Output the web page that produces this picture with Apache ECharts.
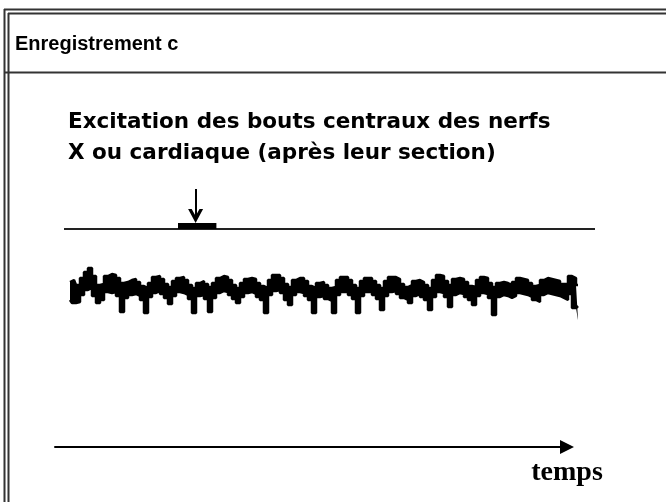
<!DOCTYPE html>
<html>
<head>
<meta charset="utf-8">
<title>Enregistrement c</title>
<script src="https://cdn.jsdelivr.net/npm/echarts@6/dist/echarts.min.js"></script>
</head>
<body style="margin:0;background:#fff;">
<div id="main" style="width:666px;height:502px;"></div>
<script type="text/javascript">
// textes
var headerText = 'Enregistrement c';
var titleLines = ['Excitation des bouts centraux des nerfs', 'X ou cardiaque (après leur section)'];
var timeName = 'temps';

// tracé (un échantillon = une unité de temps), bord haut et bord bas du trait
var traceTop = [38, 40, 35, 42, 48, 52, 44, 35, 36, 44, 46, 45, 42, 37, 38, 40, 41, 38, 34, 32,
    37, 43, 44, 41, 36, 33, 39, 42, 43, 40, 35, 32, 37, 39, 36, 33, 37, 42, 44, 43,
    40, 35, 32, 37, 41, 42, 41, 37, 34, 32, 40, 45, 45, 42, 36, 33, 40, 42, 42, 39,
    34, 32, 37, 38, 35, 32, 33, 40, 43, 43, 40, 35, 32, 39, 42, 42, 39, 35, 32, 39,
    43, 43, 41, 36, 33, 35, 39, 40, 38, 35, 32, 40, 45, 44, 39, 35, 41, 42, 41, 38,
    34, 33, 40, 43, 42, 37, 33, 37, 38, 37, 35, 38, 42, 41, 40, 37, 34, 35, 40, 42,
    41, 40, 39, 36, 36, 44, 42, 35];
var traceBottom = [20, 17, 18, 25, 30, 32, 24, 17, 20, 28, 27, 28, 24, 8, 22, 25, 26, 24, 20, 7,
    23, 27, 29, 26, 22, 16, 24, 28, 27, 25, 21, 7, 24, 25, 21, 8, 22, 27, 29, 28,
    25, 21, 17, 23, 27, 28, 26, 23, 20, 7, 25, 29, 30, 27, 20, 15, 25, 28, 27, 24,
    20, 7, 23, 24, 21, 19, 7, 25, 28, 28, 25, 21, 7, 24, 28, 28, 25, 21, 10, 24,
    28, 29, 26, 22, 20, 17, 24, 26, 23, 20, 10, 23, 28, 27, 23, 13, 25, 27, 26, 23,
    20, 15, 24, 27, 26, 22, 5, 23, 25, 24, 22, 24, 27, 26, 25, 23, 20, 18, 25, 27,
    26, 25, 24, 22, 20, 26, 12, 14];

// ligne de base, stimulation et flèche
var baselineTimes = [-1.5, 131.25];
var baselineLevel = 91;
var stimulusTimes = [27, 36.6];
var stimulusLevel = 94;
var arrowTime = 31.4;
var arrowLevels = [131, 104];

var topData = traceTop.map(function (v, i) { return [i, v]; });
var bottomData = traceBottom.map(function (v, i) { return [i, v]; });

var myChart = echarts.init(document.getElementById('main'));

var frame = { stroke: '#333', lineWidth: 2 };

var option = {
    backgroundColor: '#fff',
    animation: false,
    title: [{
        text: headerText,
        left: 15,
        top: 34,
        padding: 0,
        textStyle: { fontFamily: 'Liberation Sans', fontWeight: 'bold', fontSize: 20, color: '#000' }
    }, {
        text: titleLines.join('\n'),
        left: 68,
        top: 107,
        padding: 0,
        textStyle: { fontFamily: 'DejaVu Sans', fontWeight: 'bold', fontSize: 21.5, lineHeight: 31, color: '#000' }
    }],
    graphic: [
        { type: 'line', shape: { x1: 4.5, y1: 9, x2: 4.5, y2: 502 }, style: frame },
        { type: 'line', shape: { x1: 8.5, y1: 13, x2: 8.5, y2: 502 }, style: frame },
        { type: 'line', shape: { x1: 4, y1: 9.5, x2: 666, y2: 9.5 }, style: frame },
        { type: 'line', shape: { x1: 8, y1: 13.5, x2: 666, y2: 13.5 }, style: frame },
        { type: 'line', shape: { x1: 4, y1: 72.5, x2: 666, y2: 72.5 }, style: frame }
    ],
    grid: [
        { left: 64, right: 71, top: 180, bottom: 182 },
        { left: 55, right: 99, top: 400, bottom: 55 }
    ],
    xAxis: [{
        gridIndex: 0, type: 'value', min: -1.5, max: 131.25, show: false
    }, {
        gridIndex: 1, type: 'value', min: 0, max: 1,
        axisLine: { show: true, lineStyle: { color: '#000', width: 2 }, symbol: ['none', 'triangle'], symbolSize: [14, 14] },
        axisTick: { show: false }, axisLabel: { show: false }, splitLine: { show: false },
        name: timeName, nameLocation: 'end', nameGap: 0,
        nameTextStyle: { fontFamily: 'Liberation Serif', fontWeight: 'bold', fontSize: 28, color: '#000',
            align: 'center', verticalAlign: 'top', padding: [12, 0, 0, 0] }
    }],
    yAxis: [{
        gridIndex: 0, type: 'value', min: 0, max: 140, show: false
    }, {
        gridIndex: 1, type: 'value', min: 0, max: 1, show: false
    }],
    series: [{
        name: 'ligne de base', type: 'line', xAxisIndex: 0, yAxisIndex: 0,
        data: baselineTimes.map(function (t) { return [t, baselineLevel]; }),
        symbol: 'none', lineStyle: { color: '#222', width: 2 },
        markLine: {
            silent: true,
            symbol: ['none', 'path://M5,0 L10,8 L7.6,8 L5,4 L2.4,8 L0,8 Z'],
            symbolSize: [15, 14],
            label: { show: false },
            lineStyle: { color: '#000', width: 2, type: 'solid' },
            data: [[{ coord: [arrowTime, arrowLevels[0]] }, { coord: [arrowTime, arrowLevels[1]] }]]
        }
    }, {
        name: 'stimulation', type: 'line', xAxisIndex: 0, yAxisIndex: 0,
        data: stimulusTimes.map(function (t) { return [t, stimulusLevel]; }),
        symbol: 'none', lineStyle: { color: '#000', width: 6, cap: 'butt' }
    }, {
        // bord haut : zone noire jusqu'en bas
        name: 'trace', type: 'line', xAxisIndex: 0, yAxisIndex: 0, step: 'middle',
        data: topData, symbol: 'none', lineStyle: { color: '#000', width: 2.5 },
        areaStyle: { color: '#000', opacity: 1, origin: 'start' }
    }, {
        // bord bas : zone blanche qui découpe le trait
        name: 'bas', type: 'line', xAxisIndex: 0, yAxisIndex: 0, step: 'middle',
        data: bottomData, symbol: 'none', lineStyle: { color: '#000', width: 2.5 },
        areaStyle: { color: '#fff', opacity: 1, origin: 'start' }
    }]
};

myChart.setOption(option);
</script>
</body>
</html>
